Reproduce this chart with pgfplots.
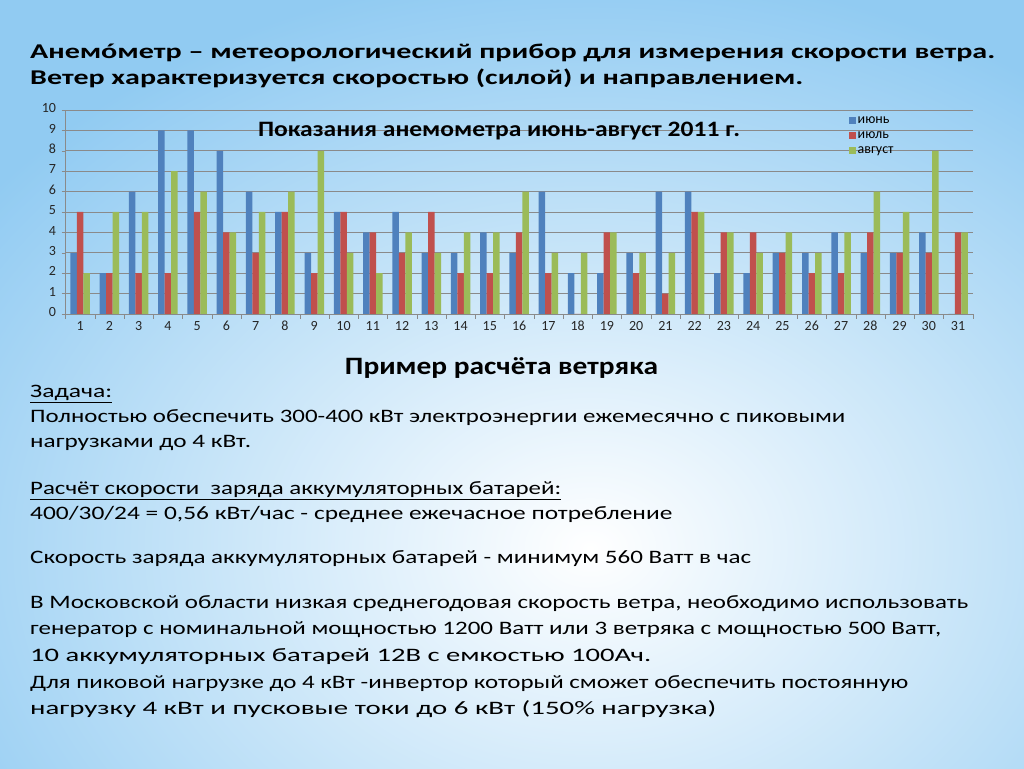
\documentclass[border=0pt]{standalone}
\usepackage{pgfplots}
\pgfplotsset{compat=1.18}
\usepackage{pgfplotstable}
\usepackage{graphicx}
\usepackage{fontspec}
\setmainfont{Carlito}
\definecolor{cjun}{HTML}{4F81BD}
\definecolor{cjul}{HTML}{C0504D}
\definecolor{caug}{HTML}{9BBB59}
\definecolor{gridc}{HTML}{8A8A8A}
\definecolor{bgblue}{RGB}{145,203,242}
\pgfplotstableread{
day jun jul aug
1 3 5 2
2 2 2 5
3 6 2 5
4 9 2 7
5 9 5 6
6 8 4 4
7 6 3 5
8 5 5 6
9 3 2 8
10 5 5 3
11 4 4 2
12 5 3 4
13 3 5 3
14 3 2 4
15 4 2 4
16 3 4 6
17 6 2 3
18 2 0 3
19 2 4 4
20 3 2 3
21 6 1 3
22 6 5 5
23 2 4 4
24 2 4 3
25 3 3 4
26 3 2 3
27 4 2 4
28 3 4 6
29 3 3 5
30 4 3 8
31 0 4 4
}\winddata
\newcommand\fitline[5]{\node[anchor=base west,inner sep=0pt] at (#1pt,{768pt-#2pt}) {\resizebox{#3pt}{\height}{\fontsize{#4}{#4}\selectfont #5}};}
\newcommand\fitcenter[5]{\node[anchor=base,inner sep=0pt] at (#1pt,{768pt-#2pt}) {\resizebox{#3pt}{\height}{\fontsize{#4}{#4}\selectfont #5}};}
\begin{document}
\begin{tikzpicture}
\fill[bgblue] (0pt,0pt) rectangle (1024pt,768pt);
\begin{scope}
\clip (0pt,0pt) rectangle (1024pt,768pt);
\shade[inner color=white,outer color=bgblue] (590pt,220pt) ellipse (760pt and 580pt);
\end{scope}
\begin{axis}[
  at={(65.5pt,454pt)}, anchor=south west, scale only axis,
  width=907.2pt, height=204pt,
  xmin=0.5, xmax=31.5, ymin=0, ymax=10,
  ybar=0pt, bar width=6.5pt,
  xtick={1,...,31}, minor xtick={0.5,1.5,...,31.5},
  ytick={0,...,10},
  axis x line*=bottom, axis y line*=left,
  axis line style={-,draw=gridc},
  tick align=outside,
  major tick length=4pt, minor tick length=5pt,
  major x tick style={draw=none},
  minor x tick style={draw=gridc},
  major y tick style={draw=gridc},
  ymajorgrids, major grid style={draw=gridc,line width=0.9pt},
  /pgf/number format/assume math mode=true,
  typeset ticklabels with strut,
  ticklabel style={font=\fontsize{14}{14}\selectfont, text=black!85},
  xticklabel style={yshift=1pt},
  yticklabel style={xshift=-2pt},
  legend style={at={(0.862,0.985)},anchor=north west,draw=none,fill=none,
    font=\fontsize{14}{14}\selectfont, row sep=3pt, inner sep=1pt},
  legend cell align=left,
  legend image code/.code={\fill[#1,draw=none] (0pt,-3.5pt) rectangle (7pt,3.5pt);},
]
\addplot[fill=cjun,draw=none] table[x=day,y=jun]{\winddata};
\addplot[fill=cjul,draw=none] table[x=day,y=jul]{\winddata};
\addplot[fill=caug,draw=none] table[x=day,y=aug]{\winddata};
\legend{июнь,июль,август}
\end{axis}
\fitcenter{499}{137}{482}{22}{\bfseries Показания анемометра июнь-август 2011 г.}
\fitline{30}{59}{965}{21}{\bfseries Анемóметр – метеорологический прибор для измерения скорости ветра.}
\fitline{30}{85}{773}{21}{\bfseries Ветер характеризуется скоростью (силой) и направлением.}
\fitcenter{501.5}{375}{313}{25}{\bfseries Пример расчёта ветряка}
\fitline{30}{398}{82}{19}{\underline{Задача:}}
\fitline{30}{423}{815}{19}{Полностью обеспечить 300-400 кВт электроэнергии ежемесячно с пиковыми}
\fitline{30}{448}{221}{19}{нагрузками до 4 кВт.}
\fitline{30}{495}{531}{19}{\underline{Расчёт скорости\ \ заряда аккумуляторных батарей:}}
\fitline{30}{520}{642}{19}{400/30/24 = 0,56 кВт/час - среднее ежечасное потребление}
\fitline{30}{564}{721}{19}{Скорость заряда аккумуляторных батарей - минимум 560 Ватт в час}
\fitline{30}{608}{938}{19}{В Московской области низкая среднегодовая скорость ветра, необходимо использовать}
\fitline{30}{635}{911}{19}{генератор с номинальной мощностью 1200 Ватт или 3 ветряка с мощностью 500 Ватт,}
\fitline{30}{661}{621}{19}{10 аккумуляторных батарей 12В с емкостью 100Ач.}
\fitline{30}{688}{878}{19}{Для пиковой нагрузке до 4 кВт -инвертор который сможет обеспечить постоянную}
\fitline{30}{714}{686}{19}{нагрузку 4 кВт и пусковые токи до 6 кВт (150\% нагрузка)}
\pgfresetboundingbox
\useasboundingbox (0pt,0pt) rectangle (1024pt,768pt);
\end{tikzpicture}
\end{document}
